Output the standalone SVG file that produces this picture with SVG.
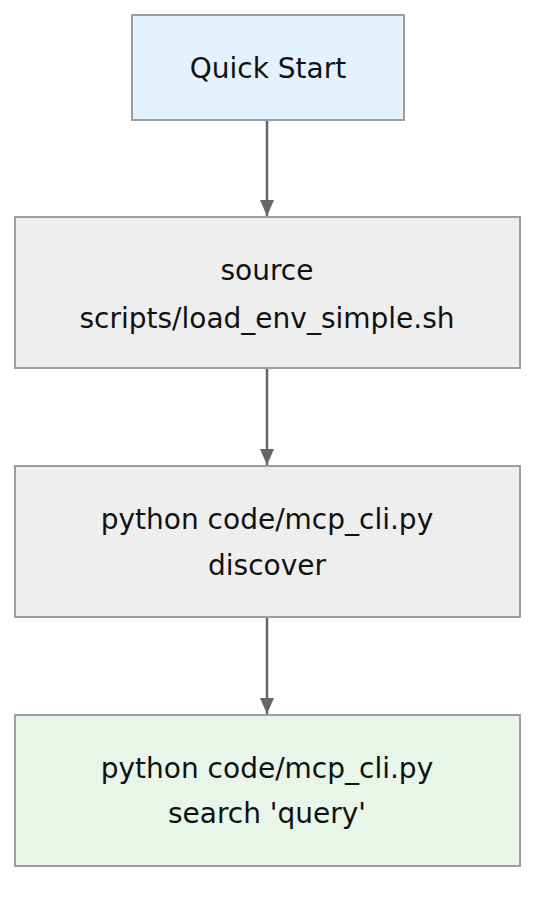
<svg xmlns="http://www.w3.org/2000/svg" width="552" height="908" viewBox="0 0 552 908">
<style>
.n{stroke:#9e9e9e;stroke-width:2}
.t{font-family:"DejaVu Sans",Verdana,sans-serif;font-size:28px;fill:#111;text-anchor:middle;dominant-baseline:central}
.e{stroke:#666;stroke-width:2.5;fill:none}
</style>
<defs>
<marker id="a" viewBox="0 0 16 14" refX="16" refY="7" markerWidth="16" markerHeight="14" markerUnits="userSpaceOnUse" orient="auto">
<path d="M0,0L16,7L0,14z" fill="#666"/>
</marker>
</defs>
<rect width="552" height="908" fill="#fff"/>
<g id="edges">
<line class="e" x1="267" y1="121" x2="267" y2="216" marker-end="url(#a)"/>
<line class="e" x1="267" y1="369" x2="267" y2="465" marker-end="url(#a)"/>
<line class="e" x1="267" y1="618" x2="267" y2="714" marker-end="url(#a)"/>
</g>
<g id="n1"><rect class="n" x="132" y="15" width="272" height="105" fill="#e3f2fd"/><text class="t" x="268" y="68">Quick Start</text></g>
<g id="n2"><rect class="n" x="15" y="217" width="505" height="151" fill="#eeeeee"/><text class="t" x="267" y="270">source</text><text class="t" x="267" y="318">scripts/load_env_simple.sh</text></g>
<g id="n3"><rect class="n" x="15" y="466" width="505" height="151" fill="#eeeeee"/><text class="t" x="267" y="519">python code/mcp_cli.py</text><text class="t" x="267" y="565">discover</text></g>
<g id="n4"><rect class="n" x="15" y="715" width="505" height="151" fill="#e8f5e9"/><text class="t" x="267" y="768">python code/mcp_cli.py</text><text class="t" x="267" y="813">search 'query'</text></g>
</svg>
